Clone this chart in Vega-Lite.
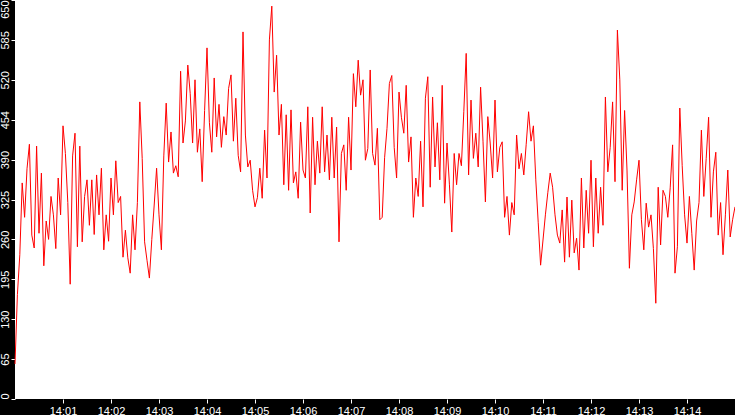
{
"$schema": "https://vega.github.io/schema/vega-lite/v6.json",
"width": 720,
"height": 399,
"autosize": {"type": "none"},
"padding": {"left": 15, "top": 0, "right": 0, "bottom": 16},
"background": "black",
"config": {
  "view": {"fill": "white", "stroke": null},
  "axis": {"domain": false, "grid": false, "tickColor": "white", "labelColor": "white", "labelFont": "Liberation Sans", "labelFontSize": 11, "tickSize": 4, "tickWidth": 1}
},
"data": {
  "format": {"parse": {"t": "date:'%H:%M:%S'"}},
  "values": [
{"t":"14:00:00","v":57},{"t":"14:00:03","v":170},{"t":"14:00:06","v":235},{"t":"14:00:09","v":352},{"t":"14:00:12","v":296},{"t":"14:00:15","v":375},{"t":"14:00:18","v":415},{"t":"14:00:21","v":267},{"t":"14:00:24","v":246},{"t":"14:00:27","v":412},{"t":"14:00:30","v":270},{"t":"14:00:33","v":368},{"t":"14:00:36","v":217},{"t":"14:00:39","v":290},{"t":"14:00:42","v":260},{"t":"14:00:45","v":330},{"t":"14:00:48","v":300},{"t":"14:00:51","v":245},{"t":"14:00:54","v":360},{"t":"14:00:57","v":300},
{"t":"14:01:00","v":445},{"t":"14:01:03","v":400},{"t":"14:01:06","v":320},{"t":"14:01:09","v":187},{"t":"14:01:12","v":396},{"t":"14:01:15","v":433},{"t":"14:01:18","v":248},{"t":"14:01:21","v":412},{"t":"14:01:24","v":256},{"t":"14:01:27","v":330},{"t":"14:01:30","v":357},{"t":"14:01:33","v":283},{"t":"14:01:36","v":357},{"t":"14:01:39","v":268},{"t":"14:01:42","v":365},{"t":"14:01:45","v":300},{"t":"14:01:48","v":376},{"t":"14:01:51","v":243},{"t":"14:01:54","v":300},{"t":"14:01:57","v":257},
{"t":"14:02:00","v":360},{"t":"14:02:03","v":300},{"t":"14:02:06","v":388},{"t":"14:02:09","v":320},{"t":"14:02:12","v":330},{"t":"14:02:15","v":231},{"t":"14:02:18","v":275},{"t":"14:02:21","v":230},{"t":"14:02:24","v":205},{"t":"14:02:27","v":300},{"t":"14:02:30","v":243},{"t":"14:02:33","v":320},{"t":"14:02:36","v":484},{"t":"14:02:39","v":392},{"t":"14:02:42","v":256},{"t":"14:02:45","v":226},{"t":"14:02:48","v":197},{"t":"14:02:51","v":260},{"t":"14:02:54","v":316},{"t":"14:02:57","v":376},
{"t":"14:03:00","v":300},{"t":"14:03:03","v":243},{"t":"14:03:06","v":396},{"t":"14:03:09","v":482},{"t":"14:03:12","v":386},{"t":"14:03:15","v":435},{"t":"14:03:18","v":368},{"t":"14:03:21","v":380},{"t":"14:03:24","v":362},{"t":"14:03:27","v":534},{"t":"14:03:30","v":417},{"t":"14:03:33","v":453},{"t":"14:03:36","v":544},{"t":"14:03:39","v":498},{"t":"14:03:42","v":417},{"t":"14:03:45","v":520},{"t":"14:03:48","v":402},{"t":"14:03:51","v":440},{"t":"14:03:54","v":354},{"t":"14:03:57","v":470},
{"t":"14:04:00","v":572},{"t":"14:04:03","v":450},{"t":"14:04:06","v":402},{"t":"14:04:09","v":523},{"t":"14:04:12","v":427},{"t":"14:04:15","v":480},{"t":"14:04:18","v":410},{"t":"14:04:21","v":460},{"t":"14:04:24","v":430},{"t":"14:04:27","v":506},{"t":"14:04:30","v":528},{"t":"14:04:33","v":420},{"t":"14:04:36","v":490},{"t":"14:04:39","v":397},{"t":"14:04:42","v":370},{"t":"14:04:45","v":598},{"t":"14:04:48","v":430},{"t":"14:04:51","v":378},{"t":"14:04:54","v":389},{"t":"14:04:57","v":340},
{"t":"14:05:00","v":313},{"t":"14:05:03","v":328},{"t":"14:05:06","v":376},{"t":"14:05:09","v":327},{"t":"14:05:12","v":438},{"t":"14:05:15","v":360},{"t":"14:05:18","v":585},{"t":"14:05:21","v":640},{"t":"14:05:24","v":500},{"t":"14:05:27","v":560},{"t":"14:05:30","v":430},{"t":"14:05:33","v":480},{"t":"14:05:36","v":349},{"t":"14:05:39","v":463},{"t":"14:05:42","v":340},{"t":"14:05:45","v":471},{"t":"14:05:48","v":352},{"t":"14:05:51","v":370},{"t":"14:05:54","v":327},{"t":"14:05:57","v":451},
{"t":"14:06:00","v":373},{"t":"14:06:03","v":360},{"t":"14:06:06","v":476},{"t":"14:06:09","v":303},{"t":"14:06:12","v":459},{"t":"14:06:15","v":349},{"t":"14:06:18","v":420},{"t":"14:06:21","v":368},{"t":"14:06:24","v":476},{"t":"14:06:27","v":370},{"t":"14:06:30","v":430},{"t":"14:06:33","v":357},{"t":"14:06:36","v":459},{"t":"14:06:39","v":360},{"t":"14:06:42","v":443},{"t":"14:06:45","v":256},{"t":"14:06:48","v":400},{"t":"14:06:51","v":414},{"t":"14:06:54","v":340},{"t":"14:06:57","v":459},
{"t":"14:07:00","v":373},{"t":"14:07:03","v":530},{"t":"14:07:06","v":476},{"t":"14:07:09","v":552},{"t":"14:07:12","v":495},{"t":"14:07:15","v":520},{"t":"14:07:18","v":389},{"t":"14:07:21","v":408},{"t":"14:07:24","v":536},{"t":"14:07:27","v":400},{"t":"14:07:30","v":381},{"t":"14:07:33","v":441},{"t":"14:07:36","v":292},{"t":"14:07:39","v":296},{"t":"14:07:42","v":393},{"t":"14:07:45","v":441},{"t":"14:07:48","v":514},{"t":"14:07:51","v":527},{"t":"14:07:54","v":410},{"t":"14:07:57","v":360},
{"t":"14:08:00","v":500},{"t":"14:08:03","v":459},{"t":"14:08:06","v":433},{"t":"14:08:09","v":511},{"t":"14:08:12","v":386},{"t":"14:08:15","v":427},{"t":"14:08:18","v":296},{"t":"14:08:21","v":360},{"t":"14:08:24","v":330},{"t":"14:08:27","v":420},{"t":"14:08:30","v":313},{"t":"14:08:33","v":490},{"t":"14:08:36","v":525},{"t":"14:08:39","v":345},{"t":"14:08:42","v":492},{"t":"14:08:45","v":378},{"t":"14:08:48","v":450},{"t":"14:08:51","v":357},{"t":"14:08:54","v":511},{"t":"14:08:57","v":319},
{"t":"14:09:00","v":417},{"t":"14:09:03","v":350},{"t":"14:09:06","v":272},{"t":"14:09:09","v":400},{"t":"14:09:12","v":349},{"t":"14:09:15","v":400},{"t":"14:09:18","v":380},{"t":"14:09:21","v":468},{"t":"14:09:24","v":563},{"t":"14:09:27","v":365},{"t":"14:09:30","v":487},{"t":"14:09:33","v":392},{"t":"14:09:36","v":433},{"t":"14:09:39","v":378},{"t":"14:09:42","v":508},{"t":"14:09:45","v":420},{"t":"14:09:48","v":321},{"t":"14:09:51","v":460},{"t":"14:09:54","v":417},{"t":"14:09:57","v":360},
{"t":"14:10:00","v":487},{"t":"14:10:03","v":370},{"t":"14:10:06","v":410},{"t":"14:10:09","v":419},{"t":"14:10:12","v":296},{"t":"14:10:15","v":330},{"t":"14:10:18","v":267},{"t":"14:10:21","v":320},{"t":"14:10:24","v":300},{"t":"14:10:27","v":430},{"t":"14:10:30","v":375},{"t":"14:10:33","v":400},{"t":"14:10:36","v":365},{"t":"14:10:39","v":415},{"t":"14:10:42","v":468},{"t":"14:10:45","v":420},{"t":"14:10:48","v":445},{"t":"14:10:51","v":357},{"t":"14:10:54","v":288},{"t":"14:10:57","v":218},
{"t":"14:11:00","v":259},{"t":"14:11:03","v":300},{"t":"14:11:06","v":336},{"t":"14:11:09","v":368},{"t":"14:11:12","v":345},{"t":"14:11:15","v":300},{"t":"14:11:18","v":267},{"t":"14:11:21","v":254},{"t":"14:11:24","v":308},{"t":"14:11:27","v":223},{"t":"14:11:30","v":329},{"t":"14:11:33","v":231},{"t":"14:11:36","v":324},{"t":"14:11:39","v":238},{"t":"14:11:42","v":262},{"t":"14:11:45","v":210},{"t":"14:11:48","v":360},{"t":"14:11:51","v":246},{"t":"14:11:54","v":340},{"t":"14:11:57","v":270},
{"t":"14:12:00","v":389},{"t":"14:12:03","v":248},{"t":"14:12:06","v":360},{"t":"14:12:09","v":270},{"t":"14:12:12","v":345},{"t":"14:12:15","v":283},{"t":"14:12:18","v":492},{"t":"14:12:21","v":370},{"t":"14:12:24","v":410},{"t":"14:12:27","v":484},{"t":"14:12:30","v":354},{"t":"14:12:33","v":601},{"t":"14:12:36","v":520},{"t":"14:12:39","v":340},{"t":"14:12:42","v":470},{"t":"14:12:45","v":373},{"t":"14:12:48","v":213},{"t":"14:12:51","v":300},{"t":"14:12:54","v":321},{"t":"14:12:57","v":357},
{"t":"14:13:00","v":389},{"t":"14:13:03","v":292},{"t":"14:13:06","v":243},{"t":"14:13:09","v":319},{"t":"14:13:12","v":280},{"t":"14:13:15","v":300},{"t":"14:13:18","v":245},{"t":"14:13:21","v":156},{"t":"14:13:24","v":345},{"t":"14:13:27","v":251},{"t":"14:13:30","v":340},{"t":"14:13:33","v":330},{"t":"14:13:36","v":296},{"t":"14:13:39","v":344},{"t":"14:13:42","v":414},{"t":"14:13:45","v":205},{"t":"14:13:48","v":248},{"t":"14:13:51","v":474},{"t":"14:13:54","v":380},{"t":"14:13:57","v":300},
{"t":"14:14:00","v":254},{"t":"14:14:03","v":330},{"t":"14:14:06","v":270},{"t":"14:14:09","v":210},{"t":"14:14:12","v":290},{"t":"14:14:15","v":320},{"t":"14:14:18","v":438},{"t":"14:14:21","v":330},{"t":"14:14:24","v":392},{"t":"14:14:27","v":459},{"t":"14:14:30","v":296},{"t":"14:14:33","v":370},{"t":"14:14:36","v":402},{"t":"14:14:39","v":267},{"t":"14:14:42","v":320},{"t":"14:14:45","v":235},{"t":"14:14:48","v":300},{"t":"14:14:51","v":373},{"t":"14:14:54","v":264},{"t":"14:14:57","v":292},
{"t":"14:15:00","v":313}
  ]
},
"mark": {"type": "line", "color": "#ff0000", "strokeWidth": 1, "interpolate": "linear"},
"encoding": {
  "x": {
    "field": "t", "type": "temporal",
    "scale": {"nice": false},
    "axis": {
      "title": null, "format": "%H:%M", "labelPadding": 2, "labelFlush": false,
      "values": [
        {"year":1900,"month":1,"date":1,"hours":14,"minutes":1},
        {"year":1900,"month":1,"date":1,"hours":14,"minutes":2},
        {"year":1900,"month":1,"date":1,"hours":14,"minutes":3},
        {"year":1900,"month":1,"date":1,"hours":14,"minutes":4},
        {"year":1900,"month":1,"date":1,"hours":14,"minutes":5},
        {"year":1900,"month":1,"date":1,"hours":14,"minutes":6},
        {"year":1900,"month":1,"date":1,"hours":14,"minutes":7},
        {"year":1900,"month":1,"date":1,"hours":14,"minutes":8},
        {"year":1900,"month":1,"date":1,"hours":14,"minutes":9},
        {"year":1900,"month":1,"date":1,"hours":14,"minutes":10},
        {"year":1900,"month":1,"date":1,"hours":14,"minutes":11},
        {"year":1900,"month":1,"date":1,"hours":14,"minutes":12},
        {"year":1900,"month":1,"date":1,"hours":14,"minutes":13},
        {"year":1900,"month":1,"date":1,"hours":14,"minutes":14}
      ]
    }
  },
  "y": {
    "field": "v", "type": "quantitative",
    "scale": {"domain": [0, 650], "nice": false},
    "axis": {
      "title": null, "values": [0, 65, 130, 195, 260, 325, 390, 455, 520, 585, 650],
      "labelAngle": -90, "labelFlush": false, "labelPadding": 1,
      "labelAlign": {"condition": [{"test": "datum.value == 650", "value": "right"}, {"test": "datum.value == 0", "value": "left"}], "value": "center"},
      "labelExpr": "datum.value == 455 ? '454' : datum.label"
    }
  }
}
}
